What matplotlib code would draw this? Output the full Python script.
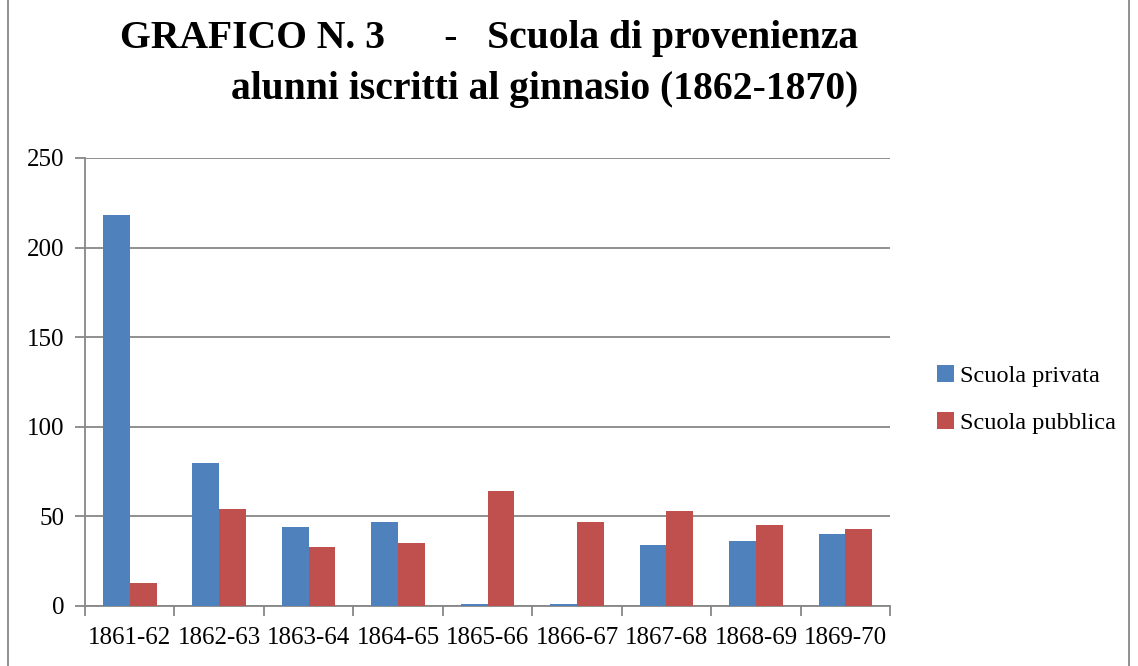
import numpy as np
import matplotlib.pyplot as plt
from matplotlib.patches import Rectangle

# Data
years = ["1861-62", "1862-63", "1863-64", "1864-65", "1865-66",
         "1866-67", "1867-68", "1868-69", "1869-70"]
privata = [218, 80, 44, 47, 1, 1, 34, 36, 40]
pubblica = [13, 54, 33, 35, 64, 47, 53, 45, 43]

plt.rcParams["font.family"] = ["Liberation Serif", "DejaVu Serif"]

fig = plt.figure(figsize=(11.38, 6.66), dpi=100)
ax = fig.add_axes([0.0747, 0.0901, 0.7075, 0.6727])

x = np.arange(len(years))
w = 0.30
ax.bar(x - w / 2, privata, w, color="#4f81bd", label="Scuola privata", zorder=3)
ax.bar(x + w / 2, pubblica, w, color="#c0504d", label="Scuola pubblica", zorder=3)

ax.set_xlim(-0.5, len(years) - 0.5)
ax.set_ylim(0, 250)
ax.set_yticks(range(0, 251, 50))
ax.yaxis.grid(True, color="#878787", linewidth=1.3, zorder=0)

# category labels centred, tick marks between categories
ax.set_xticks(x)
ax.set_xticklabels(years)
ax.set_xticks(np.arange(-0.5, len(years)), minor=True)
ax.tick_params(axis="x", which="major", length=0, labelsize=18, pad=15)
ax.tick_params(axis="x", which="minor", length=7, width=1.3, color="#878787")
ax.tick_params(axis="y", length=7, width=1.3, color="#878787", labelsize=18, pad=8)

for side in ["top", "right"]:
    ax.spines[side].set_visible(False)
for side in ["left", "bottom"]:
    ax.spines[side].set_color("#878787")
    ax.spines[side].set_linewidth(1.3)

fig.legend(loc="center left", bbox_to_anchor=(0.804, 0.40), frameon=False,
           fontsize=17.5, handlelength=0.7, handleheight=0.7, handletextpad=0.25,
           labelspacing=1.0)

fig.text(0.754, 0.942, "GRAFICO N. 3      -   Scuola di provenienza",
         ha="right", va="center", fontsize=28.5, fontweight="bold")
fig.text(0.754, 0.866, "alunni iscritti al ginnasio (1862-1870)",
         ha="right", va="center", fontsize=28.5, fontweight="bold")

# outer chart border
fig.patches.append(Rectangle((0.007, -0.01), 0.985, 1.02, transform=fig.transFigure,
                             fill=False, edgecolor="#878787", linewidth=1.3))

fig.savefig("out.png", dpi=100)
